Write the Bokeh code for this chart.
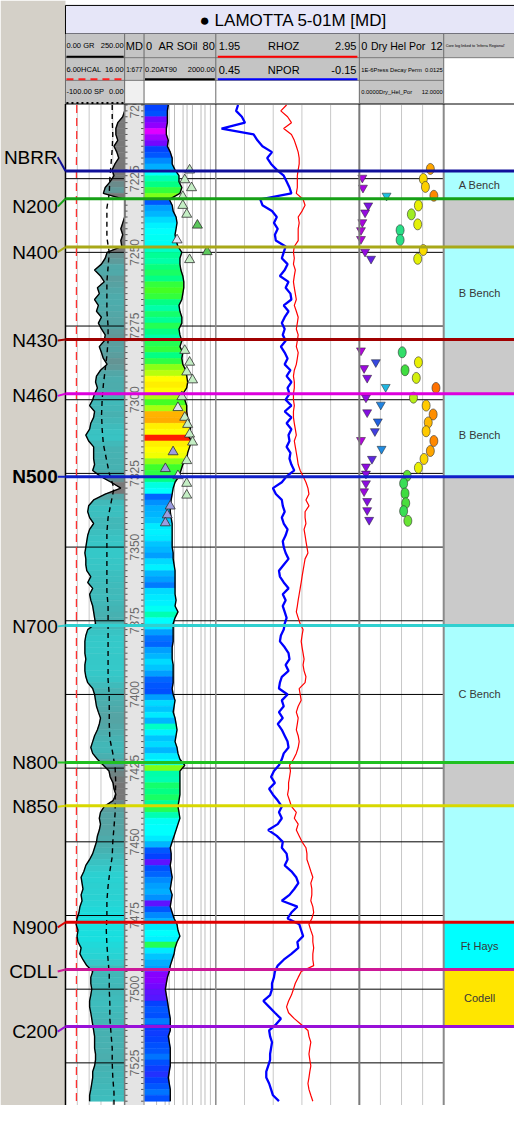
import numpy as np
from bokeh.plotting import figure
from bokeh.models import Range1d, LogScale, ColumnDataSource
from bokeh.transform import linear_cmap, log_cmap, factor_cmap
from bokeh.core.properties import value
from bokeh.embed import file_html
from bokeh.resources import INLINE

# ---------------------------------------------------------------- DATA
depth_start = 7200.0
depth_step = 2.0

gr = [255, 255, 242, 221, 213, 213, 221, 205, 217, 225,
      209, 197, 205, 189, 168, 160, 258, 258, 258, 258,
      242, 234, 242, 234, 238, 176, 168, 152, 123, 148,
      164, 135, 143, 123, 139, 131, 152, 139, 152, 168,
      164, 143, 152, 160, 176, 148, 131, 127, 135, 123,
      115, 102, 123, 119, 107, 102, 86, 98, 119, 119,
      119, 123, 115, 148, 193, 234, 168, 119, 98, 94,
      102, 119, 102, 94, 90, 86, 82, 86, 86, 90,
      107, 94, 115, 102, 107, 115, 119, 123, 127, 94,
      86, 82, 82, 82, 86, 82, 82, 86, 94, 115,
      123, 127, 131, 139, 148, 143, 135, 123, 115, 107,
      115, 135, 160, 184, 189, 201, 205, 213, 201, 164,
      148, 143, 148, 143, 135, 131, 123, 115, 102, 86,
      78, 66, 70, 74, 66, 70, 61, 57, 49, 45,
      53, 49, 53, 66, 61, 74, 90, 115, 107, 107,
      111, 107, 102, 102, 107, 111, 115, 119, 123, 123,
      123, 127, 127, 123, 115, 115, 111, 107, 102, 102]

at90 = [4.5, 4.0, 4.0, 4.0, 3.5, 3.5, 4.5, 4.0, 5.8, 7.4,
        7.4, 10.7, 17.7, 17.7, 25.6, 20.0, 5.1, 7.4, 8.4, 12.2,
        13.8, 12.2, 10.7, 12.2, 15.6, 25.6, 20.0, 20.0, 22.7, 29.0,
        32.9, 32.9, 29.0, 25.6, 17.7, 20.0, 25.6, 25.6, 17.7, 20.0,
        25.6, 20.0, 29.0, 25.6, 29.0, 42.2, 47.8, 54.1, 47.8, 29.0,
        37.3, 47.8, 47.8, 54.1, 69.5, 78.6, 54.1, 89.1, 69.5, 54.1,
        47.8, 29.0, 22.7, 17.7, 10.7, 8.4, 7.4, 6.5, 5.8, 5.8,
        6.5, 7.4, 7.4, 7.4, 7.4, 7.4, 8.4, 8.4, 9.5, 10.7,
        10.7, 10.7, 10.7, 10.7, 12.2, 10.7, 15.6, 10.7, 8.4, 8.4,
        8.4, 8.4, 7.4, 7.4, 7.4, 8.4, 8.4, 8.4, 8.4, 7.4,
        8.4, 10.7, 9.5, 8.4, 10.7, 12.2, 13.8, 12.2, 10.7, 13.8,
        15.6, 20.0, 37.3, 20.0, 20.0, 20.0, 20.0, 20.0, 17.7, 15.6,
        17.7, 20.0, 15.6, 12.2, 9.5, 7.4, 5.8, 6.5, 6.5, 5.8,
        6.5, 7.4, 6.5, 5.8, 7.4, 6.5, 5.8, 7.4, 9.5, 13.8,
        15.6, 20.0, 13.8, 10.7, 9.5, 7.4, 5.8, 5.1, 4.0, 3.5,
        3.1, 3.5, 4.0, 4.5, 5.1, 5.8, 5.8, 5.8, 4.5, 5.1,
        5.8, 5.8, 5.8, 5.8, 5.1, 4.5, 5.1, 5.8, 5.8, 5.8]

soil = [16, 17, 9, 7, 2, 6, 9, 16, 18, 22,
        25, 32, 37, 40, 46, 50, 18, 24, 26, 29,
        31, 32, 33, 33, 36, 39, 38, 41, 43, 40,
        46, 48, 46, 40, 38, 42, 39, 44, 40, 38,
        44, 46, 40, 45, 51, 53, 56, 57, 56, 52,
        48, 52, 62, 63, 57, 56, 72, 57, 56, 55,
        51, 47, 45, 40, 34, 32, 19, 23, 25, 26,
        27, 30, 31, 30, 27, 26, 24, 29, 31, 26,
        24, 21, 29, 30, 31, 33, 37, 32, 30, 24,
        20, 19, 24, 26, 29, 27, 24, 19, 18, 17,
        24, 29, 27, 30, 26, 36, 31, 27, 29, 26,
        30, 32, 50, 38, 37, 42, 40, 43, 39, 44,
        37, 33, 32, 32, 30, 26, 18, 16, 10, 17,
        19, 22, 24, 25, 23, 10, 18, 22, 26, 30,
        32, 31, 44, 30, 27, 25, 24, 8, 8, 9,
        10, 11, 16, 18, 17, 21, 16, 15, 16, 17,
        18, 20, 17, 15, 14, 16, 18, 20, 17, 16]

npor = [.357, .365, .341, .328, .426, .292, .276, .255, .215, .235,
        .219, .195, .166, .154, .142, .134, .264, .255, .215, .195,
        .207, .191, .203, .199, .158, .166, .174, .150, .162, .182,
        .146, .158, .138, .134, .166, .146, .162, .174, .162, .170,
        .158, .178, .162, .150, .162, .138, .154, .134, .150, .142,
        .158, .134, .162, .134, .154, .134, .146, .142, .154, .138,
        .142, .134, .122, .154, .174, .211, .199, .174, .170, .162,
        .174, .166, .150, .158, .170, .166, .158, .146, .166, .186,
        .182, .166, .146, .170, .158, .170, .162, .154, .162, .166,
        .178, .182, .162, .146, .142, .158, .146, .174, .182, .186,
        .150, .174, .166, .186, .170, .191, .174, .162, .150, .146,
        .166, .174, .186, .207, .219, .203, .227, .211, .191, .174,
        .186, .174, .191, .231, .195, .170, .174, .154, .150, .162,
        .134, .114, .105, .122, .142, .174, .109, .134, .150, .101,
        .093, .085, .109, .105, .134, .166, .191, .203, .207, .215,
        .215, .223, .251, .227, .203, .178, .199, .227, .223, .215,
        .219, .223, .223, .231, .239, .239, .227, .219, .211, .186]

rhoz = [2.443, 2.403, 2.450, 2.477, 2.423, 2.477, 2.497, 2.511, 2.524, 2.531,
        2.531, 2.524, 2.518, 2.518, 2.518, 2.511, 2.558, 2.572, 2.551, 2.524,
        2.531, 2.524, 2.524, 2.524, 2.497, 2.491, 2.497, 2.491, 2.504, 2.497,
        2.491, 2.497, 2.504, 2.511, 2.497, 2.511, 2.524, 2.518, 2.511, 2.524,
        2.518, 2.511, 2.524, 2.518, 2.511, 2.497, 2.491, 2.497, 2.497, 2.491,
        2.491, 2.497, 2.491, 2.491, 2.497, 2.504, 2.511, 2.497, 2.504, 2.511,
        2.518, 2.524, 2.538, 2.558, 2.578, 2.592, 2.599, 2.578, 2.599, 2.572,
        2.572, 2.578, 2.565, 2.572, 2.578, 2.585, 2.592, 2.572, 2.565, 2.558,
        2.551, 2.545, 2.538, 2.531, 2.524, 2.518, 2.511, 2.524, 2.538, 2.558,
        2.551, 2.545, 2.551, 2.558, 2.565, 2.558, 2.565, 2.578, 2.572, 2.531,
        2.538, 2.545, 2.524, 2.511, 2.524, 2.518, 2.511, 2.524, 2.531, 2.524,
        2.511, 2.491, 2.464, 2.470, 2.464, 2.457, 2.457, 2.450, 2.464, 2.477,
        2.511, 2.497, 2.524, 2.511, 2.531, 2.551, 2.578, 2.585, 2.585, 2.599,
        2.612, 2.626, 2.612, 2.619, 2.619, 2.612, 2.626, 2.632, 2.619, 2.599,
        2.612, 2.626, 2.626, 2.632, 2.626, 2.626, 2.632, 2.545, 2.524, 2.504,
        2.491, 2.477, 2.457, 2.443, 2.457, 2.497, 2.545, 2.592, 2.599, 2.612,
        2.605, 2.599, 2.605, 2.612, 2.605, 2.599, 2.592, 2.599, 2.612, 2.626]

sp_step = 5.0
sp = [-21, -21, -20, -21, -23, -25, -26, -30, -30, -30,
      -26, -28, -30, -30, -30, -28, -28, -30, -33, -36,
      -38, -39, -38, -36, -31, -26, -18, -23, -28, -30,
      -30, -30, -30, -30, -28, -28, -28, -28, -28, -28,
      -26, -26, -26, -25, -20, -16, -15, -16, -16, -18,
      -20, -21, -25, -28, -30, -30, -31, -30, -28, -26,
      -26, -25, -25, -23, -21, -21, -20, -18, -18]

hcal_step = 10.0
hcal = [7.9, 7.9, 7.85, 7.85, 7.85, 7.85, 7.85, 7.85, 7.85, 7.85,
        7.85, 7.85, 7.85, 7.85, 7.85, 7.85, 7.85, 7.85, 7.85, 7.85,
        7.85, 7.85, 7.85, 7.85, 7.85, 7.85, 7.85, 7.85, 7.85, 7.85,
        7.85, 7.85, 7.85, 7.85, 7.85]

tops_names = ["NBRR", "N200", "N400", "N430", "N460", "N500",
              "N700", "N800", "N850", "N900", "CDLL", "C200"]
tops_md = [7222.4, 7231.8, 7248.2, 7279.6, 7298.0, 7326.1,
           7376.6, 7423.1, 7437.8, 7477.3, 7493.3, 7512.7]

zone_labels = ["A Bench", "", "B Bench", "", "B Bench", "",
               "C Bench", "", "", "Ft Hays", "Codell"]

core_md = [7222.1, 7225.4, 7228.1, 7231.1, 7234.1, 7237.1, 7240.8, 7245.8, 7249.8, 7252.5,
           7283.3, 7287.3, 7290.6, 7293.3, 7299.0, 7302.7, 7306.0, 7308.4, 7311.7, 7314.4,
           7317.7, 7320.7, 7323.4, 7325.8, 7328.4, 7332.4, 7336.1, 7339.1, 7341.8]
core_soil = [50.8, 45.4, 53.0, 43.2, 43.2, 47.6, 59.5, 36.8, 70.3, 50.8,
             45.4, 50.8, 47.6, 54.1, 42.2, 37.8, 45.4, 48.6, 50.8, 54.1,
             32.4, 47.6, 23.8, 37.8, 47.6, 47.6, 29.2, 25.9, 23.8]
core_class = ["a", "a", "a", "a", "a", "a", "b", "d", "b", "a",
              "a", "a", "a", "a", "a", "d", "a", "a", "a", "a",
              "c", "a", "c", "d", "a", "a", "c", "c", "c"]

perm_md = [7224.7, 7228.1, 7230.8, 7234.1, 7236.5, 7239.8, 7242.5, 7245.5, 7249.8, 7252.2,
           7283.3, 7287.3, 7289.3, 7292.6, 7295.7, 7299.3, 7301.7, 7304.3, 7307.4, 7310.7,
           7313.7, 7316.7, 7320.1, 7322.7, 7325.1, 7328.4, 7331.1, 7334.4, 7337.5, 7340.8]
perm_val = [1.4e-6, 1.5e-6, 2.1e-5, 2.7e-6, 1.9e-6, 1.4e-6, 1.2e-6, 1.2e-6, 1.9e-6, 3.7e-6,
            1.2e-6, 6.3e-6, 1.7e-6, 2.4e-6, 1.9e-5, 2.1e-6, 1.1e-5, 2.4e-6, 7.9e-6, 5.7e-6,
            1.2e-6, 1.2e-5, 4.1e-6, 2.1e-6, 2.1e-6, 2.1e-6, 1.7e-6, 2.4e-6, 2.4e-6, 3.0e-6]

por_md = [7221.7, 7225.1, 7227.8, 7230.8, 7234.1, 7237.1, 7240.5, 7242.5, 7245.8, 7249.2,
          7252.2, 7283.9, 7287.3, 7290.0, 7292.6, 7296.0, 7299.3, 7302.0, 7305.0, 7307.7,
          7310.7, 7314.0, 7317.4, 7320.1, 7323.1, 7325.8, 7328.4, 7331.8, 7335.1, 7337.8, 7341.1]
por_val = [10.1, 9.1, 9.4, 10.6, 8.4, 7.4, 8.3, 5.8, 5.8, 9.1,
           8.3, 6.1, 8.4, 6.5, 8.1, 10.9, 7.7, 9.5, 10.5, 9.8,
           9.5, 10.6, 10.1, 9.2, 8.4, 6.8, 6.3, 6.5, 6.6, 6.3, 6.9]

md_labels = [7200, 7225, 7250, 7275, 7300, 7325, 7350, 7375, 7400, 7425, 7450, 7475, 7500, 7525]

# ---------------------------------------------------------------- STYLE / LAYOUT
FONT = "Liberation Sans"
XL, XR = 0, 530          # reference-pixel window (x), squeezed into the 514 px figure
YT, YB = 0, 1121         # reference-pixel window (y), squeezed into the 1105 px figure
Y_TOP_LOG, PX_PER_FT = 106.0, 2.99
T1, TMD, T2, T3, T4, T5 = (67, 128), (128, 148), (148, 222), (222, 370), (370, 457), (457, 530)
BODY_TOP = 105

top_colors = ["#10109a", "#16a016", "#a8a818", "#a00000", "#dd00dd", "#1020c8",
              "#30d0d0", "#20c020", "#d8d800", "#e00000", "#cc1898", "#9810d8"]
label_offset_ft = [-4.7, 2.7, 1.7, 0.3, 0.7, 0.0, 0.3, 0.0, 0.3, 1.7, 0.7, 1.7]
zone_fill = ["#aaffff", "#cacaca", "#aaffff", "#cacaca", "#aaffff", "#cacaca",
             "#aaffff", "#cacaca", "#aaffff", "#00ffff", "#ffe600"]


def ramp(stops, n=128):
    pos = np.array([s[0] for s in stops], float)
    rgb = np.array([[int(s[1][i:i + 2], 16) for i in (1, 3, 5)] for s in stops], float)
    out = []
    for v in np.linspace(pos[0], pos[-1], n):
        c = [int(round(np.interp(v, pos, rgb[:, k]))) for k in range(3)]
        out.append("#%02x%02x%02x" % tuple(c))
    return out


gr_pal = ramp([(40, "#10e6e6"), (80, "#34caca"), (120, "#46b2b2"), (160, "#5e9c9c"),
               (200, "#787878"), (250, "#7c7c7c")])
soil_pal = ramp([(0, "#ff00ff"), (8, "#8000ff"), (16, "#0044ff"), (24, "#00a0ff"),
                 (32, "#00ffff"), (40, "#00ff88"), (48, "#44ff22"), (56, "#ffff00"),
                 (64, "#ffa000"), (72, "#ff2000"), (80, "#ff0000")])
perm_pal = ramp([(-6.0, "#c000dc"), (-5.6, "#8010e0"), (-5.3, "#5030e0"), (-5.1, "#2060e0"),
                 (-4.9, "#2090e0"), (-4.6, "#20d0e0")])
por_pal = ramp([(5.5, "#20e0a0"), (6.5, "#40dd40"), (7.5, "#a8ee20"), (8.5, "#f0f000"),
                (9.5, "#ffcc00"), (10.5, "#ff9000"), (11.0, "#ff6a00")])


def lin_range(track, v0, v1):
    a, b = track
    k = (v1 - v0) / (b - a)
    return Range1d(start=v0 - (a - XL) * k, end=v1 + (XR - b) * k)


def log_range(track, v0, v1):
    a, b = track
    l0, l1 = np.log10(v0), np.log10(v1)
    k = (l1 - l0) / (b - a)
    return Range1d(start=10 ** (l0 - (a - XL) * k), end=10 ** (l1 + (XR - b) * k))


def md_at(ypix):
    return depth_start + (ypix - Y_TOP_LOG) / PX_PER_FT


p = figure(width=514, height=1105, x_range=Range1d(XL, XR), y_range=Range1d(YB, YT),
           output_backend="svg", toolbar_location=None, min_border=0,
           x_axis_location=None, y_axis_location=None,
           outline_line_color=None, background_fill_color="white", border_fill_color="white")
p.xgrid.visible = False
p.ygrid.visible = False

p.extra_y_ranges = {"depth": Range1d(start=md_at(YB), end=md_at(YT))}
p.extra_x_ranges = {
    "gr": lin_range(T1, 0, 250), "sp": lin_range(T1, -100, 0), "hcal": lin_range(T1, 6, 16),
    "at90": log_range(T2, 0.2, 2000), "soil": lin_range(T2, 0, 80),
    "rhoz": lin_range(T3, 1.95, 2.95), "npor": lin_range(T3, 0.45, -0.15),
    "por": lin_range(T4, 0, 12), "perm": log_range(T4, 1e-6, 0.0125),
}
p.extra_x_scales = {"at90": LogScale(), "perm": LogScale()}

D = dict(y_range_name="depth")

# derived arrays
n = len(gr)
depth = depth_start + depth_step * np.arange(n)
gr_a = np.array(gr, float)
grc = np.minimum(gr_a, 250.0)
at_a = np.array(at90, float)
soil_a = np.array(soil, float)
sp_depth = depth_start + sp_step * np.arange(len(sp))
hcal_depth = depth_start + hcal_step * np.arange(len(hcal))
zone_top = tops_md[:-1]
zone_base = tops_md[1:]
zone_mid = [(a + b) / 2 for a, b in zip(zone_top, zone_base)]
grid_md = md_labels[1:]

# ---------------------------------------------------------------- backgrounds
p.quad(left=[XL], right=[T1[0]], top=[YT], bottom=[YB], fill_color="#d4d0c8", line_color=None)
p.quad(left=[TMD[0]], right=[TMD[1]], top=[BODY_TOP], bottom=[YB], fill_color="#e4e4e4", line_color=None)

# zones
p.quad(left=T5[0], right=T5[1], top=zone_top, bottom=zone_base, fill_color=zone_fill,
       line_color=None, **D)

# grids
for v in [50, 100, 150, 200]:
    p.segment(x0=[v], x1=[v], y0=[depth_start], y1=[7545], line_color="#c8c8c8", line_width=1,
              x_range_name="gr", **D)
for v in [1, 3, 5, 10, 30, 50, 100, 300, 500, 1000]:
    p.segment(x0=[v], x1=[v], y0=[depth_start], y1=[7545], line_color="#bdbdbd", line_width=1,
              x_range_name="at90", **D)
for v in [2.15, 2.35, 2.55, 2.75]:
    p.segment(x0=[v], x1=[v], y0=[depth_start], y1=[7545], line_color="#c8c8c8", line_width=1,
              x_range_name="rhoz", **D)
for v in [3, 6, 9]:
    p.segment(x0=[v], x1=[v], y0=[depth_start], y1=[7545], line_color="#c8c8c8", line_width=1,
              x_range_name="por", **D)
p.segment(x0=T2[0], x1=T4[1], y0=grid_md, y1=grid_md, line_color="black", line_width=1, **D)

# ---------------------------------------------------------------- track 1: GR / SP / HCAL
gr_src = ColumnDataSource(dict(
    xs=[[grc[i], grc[i + 1], 250.0, 250.0] for i in range(n - 1)],
    ys=[[depth[i], depth[i + 1], depth[i + 1], depth[i]] for i in range(n - 1)],
    c=(gr_a[:-1] + gr_a[1:]) / 2))
gmap = linear_cmap("c", gr_pal, 40, 250)
p.patches("xs", "ys", source=gr_src, fill_color=gmap, line_color=gmap, line_width=0.6,
          x_range_name="gr", **D)
p.segment(x0=T1[0], x1=T1[1], y0=grid_md, y1=grid_md, line_color="black", line_width=1, **D)
p.line(x=list(hcal), y=list(hcal_depth), line_color="#ff3030", line_width=1.3, line_dash="8 5",
       x_range_name="hcal", **D)
p.line(x=list(sp), y=list(sp_depth), line_color="black", line_width=1.4, line_dash="5 4",
       x_range_name="sp", **D)
p.line(x=list(grc), y=list(depth), line_color="black", line_width=1.4, x_range_name="gr", **D)

# ---------------------------------------------------------------- track 2: AT90 fill coloured by SOil
soil_src = ColumnDataSource(dict(
    xs=[[0.2, at_a[i], at_a[i + 1], 0.2] for i in range(n - 1)],
    ys=[[depth[i], depth[i], depth[i + 1], depth[i + 1]] for i in range(n - 1)],
    c=soil_a[:-1]))
smap = linear_cmap("c", soil_pal, 0, 80)
p.patches("xs", "ys", source=soil_src, fill_color=smap, line_color=smap, line_width=0.6,
          x_range_name="at90", **D)
p.line(x=list(at_a), y=list(depth), line_color="black", line_width=1.4, x_range_name="at90", **D)
core_src = ColumnDataSource(dict(x=core_soil, y=core_md, color_key=core_class))
p.scatter("x", "y", source=core_src, marker="triangle", size=10,
          fill_color=factor_cmap("color_key", ["#c4eec4", "#5cc85c", "#9c9ce0", "#e4e4f6"],
                                 ["a", "b", "c", "d"]),
          line_color="#303030", line_width=0.8, x_range_name="soil", **D)

# ---------------------------------------------------------------- track 3
p.line(x=npor, y=list(depth), line_color="#0000ff", line_width=2.3, x_range_name="npor", **D)
p.line(x=rhoz, y=list(depth), line_color="#ff0000", line_width=1.2, x_range_name="rhoz", **D)

# ---------------------------------------------------------------- track 4
perm_src = ColumnDataSource(dict(x=perm_val, y=perm_md))
pmap = log_cmap("x", perm_pal, 1e-6, 10 ** -4.6)
p.scatter("x", "y", source=perm_src, marker="inverted_triangle", size=9, fill_color=pmap,
          line_color="#202020", line_width=0.5, x_range_name="perm", **D)
por_src = ColumnDataSource(dict(x=por_val, y=por_md))
p.ellipse("x", "y", source=por_src, width=8, height=11, width_units="screen", height_units="screen",
          fill_color=linear_cmap("x", por_pal, 5.5, 11.0), line_color="#303030", line_width=0.6,
          x_range_name="por", **D)

# ---------------------------------------------------------------- MD track labels and ticks
tick_md = list(depth_start + 2.0 * np.arange(171))
p.segment(x0=TMD[0], x1=TMD[0] + 3, y0=tick_md, y1=tick_md, line_color="#505050", line_width=1, **D)
p.segment(x0=TMD[1] - 3, x1=TMD[1], y0=tick_md, y1=tick_md, line_color="#505050", line_width=1, **D)
p.text(x=[138] * len(md_labels), y=md_labels, text=[str(v) for v in md_labels], angle=np.pi / 2,
       text_font=value(FONT), text_font_size="12px", text_align="center", text_baseline="middle",
       text_color="#6a6a6a", **D)

# ---------------------------------------------------------------- track borders
for x, c, w in [(T1[0], "black", 1.5), (TMD[0], "#7a7a7a", 1.5), (T2[0], "#9a9a9a", 1.2),
                (T3[0], "#8a8a8a", 1.5), (T4[0], "#7a7a7a", 2), (T5[0], "#8a8a8a", 2)]:
    p.segment(x0=[x], x1=[x], y0=[BODY_TOP], y1=[YB], line_color=c, line_width=w)

# ---------------------------------------------------------------- formation tops
lab_md = [t + o for t, o in zip(tops_md, label_offset_ft)]
p.segment(x0=T1[0], x1=T5[1], y0=tops_md, y1=tops_md, line_color=top_colors, line_width=3, **D)
p.segment(x0=59, x1=T1[0], y0=lab_md, y1=tops_md, line_color=top_colors, line_width=2, **D)
for nm, y in zip(tops_names, lab_md):
    p.text(x=[59], y=[y], text=[nm], text_font=value(FONT), text_font_size="19px",
           text_align="right", text_baseline="middle", text_color="black",
           text_font_style="bold" if nm == "N500" else "normal", **D)

zl = [(m, t) for m, t in zip(zone_mid, zone_labels) if t]
p.text(x=[494] * len(zl), y=[m for m, _ in zl], text=[t for _, t in zl], text_font=value(FONT),
       text_font_size="11px", text_align="center", text_baseline="middle", text_color="#383838", **D)

# ---------------------------------------------------------------- header
def box(l, r, t, b, fill, line=None, lw=1):
    p.quad(left=[l], right=[r], top=[t], bottom=[b], fill_color=fill, line_color=line, line_width=lw)


box(67, 530, 5, 34, "#e6e6f8", "black", 1)
box(67, 457, 34, 105, "#c4c4c4")
box(457, 530, 34, 58, "#c4c4c4")
box(457, 530, 58, 105, "white")
box(148, 370, 81, 105, "white")
box(128, 148, 81, 105, "#f0f0f0")
p.segment(x0=[67, 67, 67], x1=[530, 457, 530], y0=[58, 81, 105], y1=[58, 81, 105],
          line_color=["#7a7a7a", "#7a7a7a", "black"], line_width=1)
p.segment(x0=[128, 148, 222, 370, 457, 67], x1=[128, 148, 222, 370, 457, 67],
          y0=[34] * 6, y1=[105] * 6, line_color="#6a6a6a", line_width=1)

p.segment(x0=[68, 149, 224], x1=[127, 221, 368], y0=[57, 80, 57], y1=[57, 80, 57],
          line_color=["black", "black", "#ff0000"], line_width=2)
p.segment(x0=[224], x1=[368], y0=[80], y1=[80], line_color="#0000ff", line_width=2)
p.segment(x0=[68], x1=[127], y0=[80], y1=[80], line_color="#ff2020", line_width=2, line_dash="7 5")
p.segment(x0=[68], x1=[127], y0=[104], y1=[104], line_color="black", line_width=2, line_dash="2 3")


def txt(xs, ys, ts, size, align="left", style="normal", color="black"):
    p.text(x=xs, y=ys, text=ts, text_font=value(FONT), text_font_size=f"{size}px",
           text_align=align, text_baseline="middle", text_color=color, text_font_style=style)


txt([302], [20], ["\u25cf LAMOTTA 5-01M [MD]"], 17, "center")
txt([68, 68, 68, 149], [46, 70, 92, 70], ["0.00 GR", "6.00HCAL", "-100.00 SP", "0.20AT90"], 7.5)
txt([127, 127, 127, 221], [46, 70, 92, 70], ["250.00", "16.00", "0.00", "2000.00"], 7.5, "right")
txt([138], [46], ["MD"], 11, "center")
txt([138], [70], ["1:677"], 6.5, "center")
txt([150, 225, 225, 372], [46, 46, 70, 46], ["0", "1.95", "0.45", "0"], 11)
txt([183, 292, 292], [46, 46, 70], ["AR SOil", "RHOZ", "NPOR"], 11, "center")
txt([410], [46], ["Dry Hel Por"], 10.5, "center")
txt([221, 367, 367, 456], [46, 46, 70, 46], ["80", "2.95", "-0.15", "12"], 11, "right")
txt([372, 372], [70, 93], ["1E-6Press Decay Perm", "0.0000Dry_Hel_Por"], 5.8)
txt([456, 456], [70, 93], ["0.0125", "12.0000"], 5.8, "right")
txt([459], [46], ["Core log linked to 'Inferra Regional'"], 3.8)

open("out.html", "w").write(file_html(p, INLINE))
